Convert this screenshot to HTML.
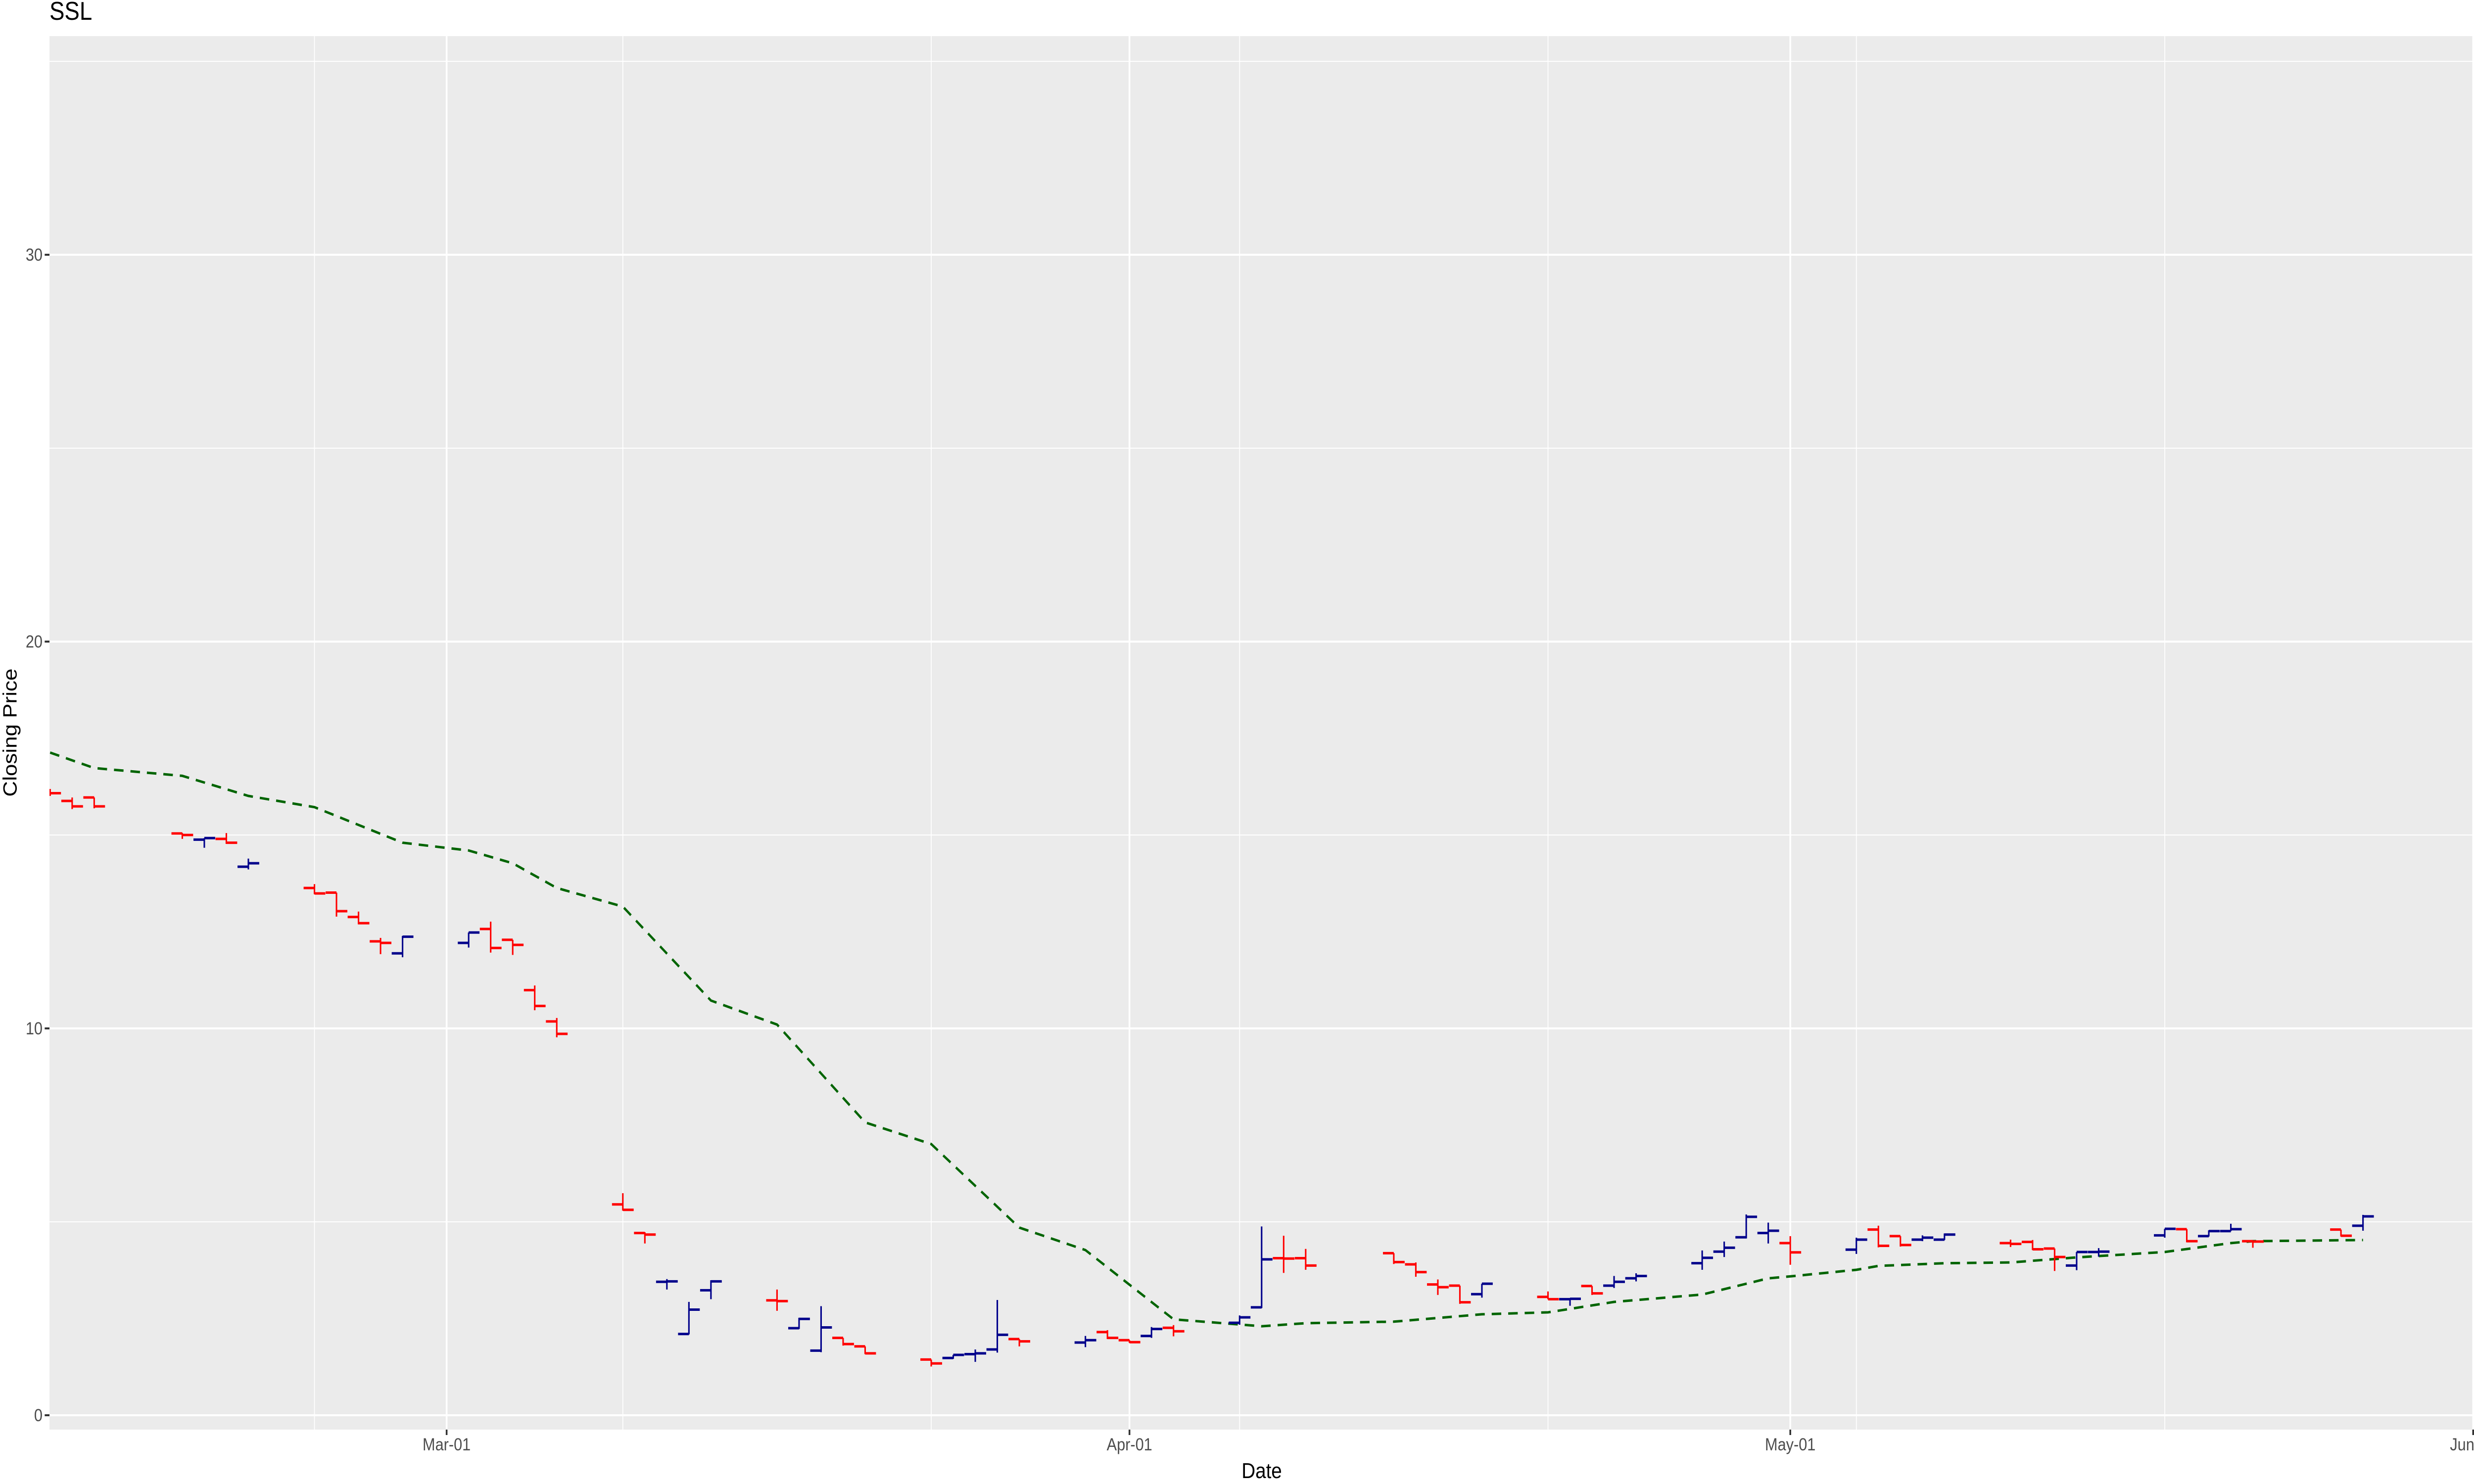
<!DOCTYPE html>
<html><head><meta charset="utf-8"><style>
html,body{margin:0;padding:0;background:#fff;width:100vw;height:100vh;overflow:hidden;}
svg{display:block;font-family:"Liberation Sans",sans-serif;overflow:hidden;width:100vw;height:100vh;}
</style></head><body>
<svg id="chart" viewBox="0 0 5700 3000" preserveAspectRatio="none" xmlns="http://www.w3.org/2000/svg">
<defs><clipPath id="pc"><rect x="114" y="73" width="5586" height="2817"/></clipPath><clipPath id="full"><rect x="0" y="0" width="5700" height="3000"/></clipPath></defs>
<g clip-path="url(#full)">
<rect x="114" y="73" width="5586" height="2817" fill="#EBEBEB"/>
<g id="grid"></g>
<g id="ma" clip-path="url(#pc)"></g>
<g id="bars" clip-path="url(#pc)"></g>
<g id="axes"></g>
<text x="114" y="40" font-size="52" fill="#000">SSL</text>
<text x="2907" y="2988" font-size="44" text-anchor="middle" fill="#000">Date</text>
<text transform="translate(38,1481) rotate(-90)" font-size="44" text-anchor="middle" fill="#000">Closing Price</text>
</g>
</svg>
<script>
const dates=["2026-02-11","2026-02-12","2026-02-13","2026-02-17","2026-02-18","2026-02-19","2026-02-20","2026-02-23","2026-02-24","2026-02-25","2026-02-26","2026-02-27","2026-03-02","2026-03-03","2026-03-04","2026-03-05","2026-03-06","2026-03-09","2026-03-10","2026-03-11","2026-03-12","2026-03-13","2026-03-16","2026-03-17","2026-03-18","2026-03-19","2026-03-20","2026-03-23","2026-03-24","2026-03-25","2026-03-26","2026-03-27","2026-03-30","2026-03-31","2026-04-01","2026-04-02","2026-04-03","2026-04-06","2026-04-07","2026-04-08","2026-04-09","2026-04-13","2026-04-14","2026-04-15","2026-04-16","2026-04-17","2026-04-20","2026-04-21","2026-04-22","2026-04-23","2026-04-24","2026-04-27","2026-04-28","2026-04-29","2026-04-30","2026-05-01","2026-05-04","2026-05-05","2026-05-06","2026-05-07","2026-05-08","2026-05-11","2026-05-12","2026-05-13","2026-05-14","2026-05-15","2026-05-18","2026-05-19","2026-05-20","2026-05-21","2026-05-22","2026-05-26","2026-05-27"];
const opens=[16.12,15.88,15.97,15.04,14.88,14.90,14.18,13.63,13.51,12.88,12.25,11.94,12.21,12.57,12.29,10.99,10.18,5.45,4.71,3.45,2.10,3.23,2.97,2.25,1.67,2.00,1.78,1.44,1.48,1.58,1.70,1.97,1.88,2.15,1.94,2.05,2.26,2.39,2.79,4.06,4.06,4.19,3.90,3.38,3.35,3.13,3.06,3.00,3.34,3.35,3.54,3.93,4.23,4.60,4.71,4.45,4.28,4.80,4.63,4.54,4.54,4.45,4.48,4.31,3.87,4.22,4.65,4.81,4.63,4.76,4.50,4.80,4.90];
const highs=[16.19,15.97,15.97,15.05,14.92,15.05,14.39,13.73,13.51,13.02,12.34,12.39,12.48,12.76,12.29,11.11,10.27,5.74,4.73,3.52,2.93,3.49,3.25,2.52,2.82,2.00,1.78,1.44,1.56,1.70,2.98,1.97,2.05,2.20,1.94,2.28,2.33,2.58,4.88,4.64,4.30,4.19,3.95,3.51,3.35,3.40,3.20,3.01,3.34,3.60,3.67,4.26,4.49,5.19,4.98,4.63,4.59,4.90,4.63,4.65,4.70,4.54,4.53,4.31,4.22,4.32,4.82,4.81,4.78,4.95,4.50,4.80,5.18];
const lows=[16.01,15.67,15.69,14.90,14.67,14.77,14.11,13.47,12.89,12.69,11.92,11.84,12.09,11.96,11.90,10.47,9.77,5.29,4.44,3.25,2.09,3.00,2.70,2.23,1.63,1.80,1.58,1.26,1.46,1.38,1.62,1.78,1.76,1.97,1.87,2.00,2.04,2.34,2.77,3.68,3.76,3.91,3.58,3.11,2.88,3.04,3.00,2.83,3.11,3.29,3.46,3.76,4.09,4.57,4.44,3.89,4.17,4.34,4.36,4.50,4.53,4.35,4.27,3.73,3.75,4.10,4.59,4.47,4.62,4.76,4.33,4.62,4.77];
const closes=[16.08,15.74,15.74,15.00,14.92,14.80,14.27,13.49,13.03,12.72,12.21,12.37,12.48,12.08,12.16,10.58,9.86,5.31,4.67,3.46,2.73,3.46,2.95,2.49,2.27,1.84,1.60,1.34,1.56,1.60,2.08,1.91,1.94,2.00,1.89,2.23,2.17,2.53,4.03,4.05,3.87,3.96,3.70,3.31,2.92,3.40,3.00,3.01,3.15,3.45,3.60,4.07,4.33,5.13,4.77,4.21,4.54,4.38,4.40,4.59,4.67,4.43,4.29,4.09,4.22,4.23,4.82,4.50,4.76,4.81,4.49,4.64,5.14];
const maDates=["2026-02-11","2026-02-13","2026-02-17","2026-02-20","2026-02-23","2026-02-27","2026-03-02","2026-03-04","2026-03-06","2026-03-09","2026-03-13","2026-03-16","2026-03-20","2026-03-23","2026-03-27","2026-03-30","2026-04-03","2026-04-07","2026-04-09","2026-04-13","2026-04-17","2026-04-20","2026-04-23","2026-04-27","2026-04-30","2026-05-01","2026-05-04","2026-05-05","2026-05-08","2026-05-11","2026-05-14","2026-05-18","2026-05-21","2026-05-22","2026-05-27"];
const maValues=[17.13,16.73,16.53,16.01,15.72,14.80,14.60,14.27,13.63,13.15,10.72,10.10,7.57,7.01,4.85,4.27,2.48,2.30,2.38,2.42,2.61,2.66,2.93,3.12,3.54,3.59,3.76,3.86,3.93,3.95,4.08,4.22,4.45,4.50,4.53];
const yMajor=[0,10,20,30];
const yMinor=[5,15,25,35];
const xMajorDates=["2026-03-01","2026-04-01","2026-05-01","2026-06-01"];
const xMajorLabels=["Mar-01","Apr-01","May-01","Jun-01"];
const xMinorDates=["2026-02-23","2026-03-09","2026-03-23","2026-04-06","2026-04-20","2026-05-04","2026-05-18"];

const NS="http://www.w3.org/2000/svg";
const ORIGIN=Date.UTC(2026,2,1);
function dayOf(s){const p=s.split("-");return (Date.UTC(+p[0],+p[1]-1,+p[2])-ORIGIN)/86400000;}
function xScale(s){return 1029+dayOf(s)*50.75;}
function yScale(v){return 2861-v*78.2;}
function mk(tag,attrs,parent){const e=document.createElementNS(NS,tag);for(const k in attrs)e.setAttribute(k,attrs[k]);parent.appendChild(e);return e;}

const grid=document.getElementById("grid");
yMinor.forEach(v=>{const l=mk("line",{x1:114,x2:5700,y1:yScale(v),y2:yScale(v),stroke:"#fff","stroke-width":2},grid);

});
xMinorDates.forEach(d=>{const l=mk("line",{x1:xScale(d),x2:xScale(d),y1:73,y2:2890,stroke:"#fff","stroke-width":2},grid);

});
yMajor.forEach(v=>{const l=mk("line",{x1:114,x2:5700,y1:yScale(v),y2:yScale(v),stroke:"#fff","stroke-width":4},grid);

});
xMajorDates.forEach(d=>{const l=mk("line",{x1:xScale(d),x2:xScale(d),y1:73,y2:2890,stroke:"#fff","stroke-width":4},grid);

});

const axes=document.getElementById("axes");
yMajor.forEach(v=>{
 const t=mk("line",{x1:103,x2:114,y1:yScale(v),y2:yScale(v),stroke:"#333","stroke-width":4},axes);
 
 
 const tx=mk("text",{x:98,y:yScale(v)+12,"font-size":35,"text-anchor":"end",fill:"#4D4D4D"},axes);
 tx.textContent=String(v);
 
 
});
xMajorDates.forEach((d,i)=>{
 const x=xScale(d);
 const t=mk("line",{x1:x,x2:x,y1:2890,y2:2901,stroke:"#333","stroke-width":4},axes);
 
 
 const tx=mk("text",{x:x,y:2932,"font-size":35,"text-anchor":"middle",fill:"#4D4D4D"},axes);
 tx.textContent=xMajorLabels[i];
 
 
});

const ma=document.getElementById("ma");
const pts=maDates.map((d,i)=>xScale(d).toFixed(1)+","+yScale(maValues[i]).toFixed(1)).join(" ");
const pl=mk("polyline",{points:pts,fill:"none",stroke:"#006400","stroke-width":5,"stroke-dasharray":"22 16"},ma);



const bars=document.getElementById("bars");
dates.forEach((d,i)=>{
 const x=xScale(d);
 const col=closes[i]>=opens[i]?"#00008B":"#FF0000";
 const g=mk("g",{},bars);
 
 
 mk("line",{x1:x,x2:x,y1:yScale(highs[i]),y2:yScale(lows[i]),stroke:col,"stroke-width":3.5},g);
 mk("line",{x1:x-25,x2:x,y1:yScale(opens[i]),y2:yScale(opens[i]),stroke:col,"stroke-width":5},g);
 mk("line",{x1:x,x2:x+25,y1:yScale(closes[i]),y2:yScale(closes[i]),stroke:col,"stroke-width":5},g);
});
</script>
</body></html>
